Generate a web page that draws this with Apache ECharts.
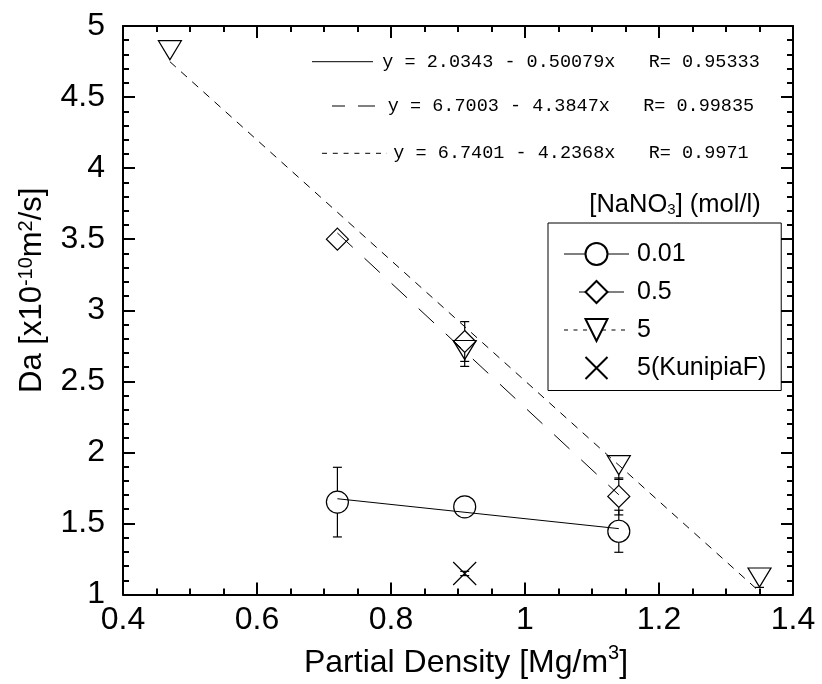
<!DOCTYPE html>
<html>
<head>
<meta charset="utf-8">
<script src="https://cdn.jsdelivr.net/npm/echarts@6/dist/echarts.min.js"></script>
<style>
  html, body { margin: 0; padding: 0; background: #fff; }
  #chart { width: 822px; height: 684px; }
</style>
</head>
<body>
<div id="chart"></div>
<script>
// Apparent diffusivity Da against partial density, one series per NaNO3 concentration
const concLabels = ['0.01', '0.5', '5', '5(KunipiaF)'];

const densC001 = [0.72, 0.91, 1.14];
const daC001 = [1.65, 1.617, 1.445];
const errUpC001 = [0.245, 0, 0.148];
const errDnC001 = [0.245, 0, 0.148];

const densC05 = [0.72, 0.91, 1.14];
const daC05 = [3.5, 2.78, 1.69];
const errUpC05 = [0, 0.14, 0.13];
const errDnC05 = [0, 0.14, 0.13];

const densC5 = [0.47, 0.91, 1.14, 1.35];
const daC5 = [4.83, 2.72, 1.91, 1.12];
const errUpC5 = [0, 0, 0, 0];
const errDnC5 = [0, 0.115, 0.1, 0.07];

const densKF = [0.91];
const daKF = [1.148];
const errUpKF = [0.015];
const errDnKF = [0.015];

// linear fits  y = a - b x  and their correlation coefficients
const fitA = ['2.0343', '6.7003', '6.7401'];
const fitB = ['0.50079', '4.3847', '4.2368'];
const fitR = ['0.95333', '0.99835', '0.9971'];
const fitFrom = [0.72, 0.72, 0.47];
const fitTo = [1.14, 1.14, 1.35];

const xTickLabels = ['0.4', '0.6', '0.8', '1', '1.2', '1.4'];
const yTickLabels = ['1', '1.5', '2', '2.5', '3', '3.5', '4', '4.5', '5'];

const SANS = 'Liberation Sans, Arial, sans-serif';
const MONO = 'Liberation Mono, Courier New, monospace';
const BLACK = '#000';

const fitLine = (i) => [fitFrom[i], fitTo[i]].map(x => [x, parseFloat(fitA[i]) - parseFloat(fitB[i]) * x]);
const pairs = (xs, ys) => xs.map((x, i) => [x, ys[i]]);

// vertical error bars that start at the marker outline
function errorBars(xs, ys, up, dn, gap) {
  return {
    type: 'custom',
    silent: true,
    z: 3,
    encode: { x: 0, y: 1 },
    data: xs.map((x, i) => [x, ys[i], up[i], dn[i]]),
    renderItem(params, api) {
      const x = api.value(0), y = api.value(1), eu = api.value(2), ed = api.value(3);
      const c = api.coord([x, y]);
      const st = { stroke: BLACK, lineWidth: 1.2 };
      const cap = 4.5;
      const kids = [];
      if (eu > 0) {
        const t = api.coord([x, y + eu])[1];
        if (c[1] - gap > t) kids.push({ type: 'line', shape: { x1: c[0], y1: c[1] - gap, x2: c[0], y2: t }, style: st });
        kids.push({ type: 'line', shape: { x1: c[0] - cap, y1: t, x2: c[0] + cap, y2: t }, style: st });
      }
      if (ed > 0) {
        const b = api.coord([x, y - ed])[1];
        if (c[1] + gap < b) kids.push({ type: 'line', shape: { x1: c[0], y1: c[1] + gap, x2: c[0], y2: b }, style: st });
        kids.push({ type: 'line', shape: { x1: c[0] - cap, y1: b, x2: c[0] + cap, y2: b }, style: st });
      }
      return { type: 'group', children: kids };
    }
  };
}

const hollow = { color: 'rgba(0,0,0,0)', borderColor: BLACK, borderWidth: 1.2 };
function markerSeries(name, xs, ys, symbol, size, rotate) {
  return {
    name, type: 'line', data: pairs(xs, ys),
    symbol, symbolSize: size, symbolRotate: rotate || 0, showAllSymbol: true,
    lineStyle: { color: BLACK, width: 1, opacity: 0 },
    itemStyle: hollow,
    emphasis: { disabled: true },
    clip: false, z: 4
  };
}

function fitSeries(i, dash) {
  return {
    name: 'fit ' + concLabels[i], type: 'line', data: fitLine(i),
    symbol: 'none', silent: true,
    lineStyle: { color: BLACK, width: 1, type: dash },
    z: 2
  };
}

const axisCommon = {
  axisLine: { onZero: false, lineStyle: { color: BLACK, width: 2 } },
  axisTick: { inside: true, length: 12, lineStyle: { color: BLACK, width: 2 } },
  minorTick: { show: true, length: 6, lineStyle: { color: BLACK, width: 2 } },
  splitLine: { show: false },
  minorSplitLine: { show: false }
};

const xBase = Object.assign({ type: 'value', min: 0.4, max: 1.4, interval: 0.2 }, axisCommon);
xBase.minorTick = Object.assign({}, axisCommon.minorTick, { splitNumber: 4 });
const yBase = Object.assign({ type: 'value', min: 1, max: 5, interval: 0.5 }, axisCommon);
yBase.minorTick = Object.assign({}, axisCommon.minorTick, { splitNumber: 5 });

// main text sits at the bottom of the line box, superscripts hang from its top
const supRich = (size, lineH, supSize, supLineH) => ({
  a: { fontSize: size, fontFamily: SANS, color: BLACK, lineHeight: lineH, verticalAlign: 'bottom' },
  s: { fontSize: supSize, fontFamily: SANS, color: BLACK, lineHeight: supLineH, verticalAlign: 'top' }
});

const eqY = [61.7, 106, 153.3];
const eqGraphics = [];
fitA.forEach((a, i) => {
  eqGraphics.push({
    type: 'text', x: 571, y: eqY[i],
    style: {
      text: 'y = ' + a + ' - ' + fitB[i] + 'x   R= ' + fitR[i],
      fontSize: 18.5, fontFamily: MONO, fill: BLACK, align: 'center', verticalAlign: 'middle'
    }
  });
});
// line-style keys beside each equation
eqGraphics.push({ type: 'line', shape: { x1: 312, y1: eqY[0], x2: 373, y2: eqY[0] }, style: { stroke: BLACK, lineWidth: 1 } });
eqGraphics.push({ type: 'line', shape: { x1: 332, y1: eqY[1], x2: 345, y2: eqY[1] }, style: { stroke: BLACK, lineWidth: 1 } });
eqGraphics.push({ type: 'line', shape: { x1: 358, y1: eqY[1], x2: 375, y2: eqY[1] }, style: { stroke: BLACK, lineWidth: 1 } });
eqGraphics.push({ type: 'line', shape: { x1: 322, y1: eqY[2], x2: 387, y2: eqY[2] }, style: { stroke: BLACK, lineWidth: 1, lineDash: [5, 5.8] } });

// legend heading
eqGraphics.push({
  type: 'text', x: 675, y: 204.7,
  style: {
    text: '{a|[NaNO}{s|3}{a|] (mol/l)}',
    align: 'center', verticalAlign: 'middle',
    rich: {
      a: { fontSize: 25.5, fontFamily: SANS, fill: BLACK, lineHeight: 26, verticalAlign: 'top' },
      s: { fontSize: 15, fontFamily: SANS, fill: BLACK, lineHeight: 2, verticalAlign: 'bottom' }
    }
  }
});

const chart = echarts.init(document.getElementById('chart'), null, { renderer: 'canvas' });
chart.setOption({
  animation: false,
  backgroundColor: '#fff',
  grid: { left: 123, top: 26, right: 29, bottom: 89 },
  xAxis: [
    Object.assign({}, xBase, {
      position: 'bottom',
      axisLabel: {
        fontSize: 32, fontFamily: SANS, color: BLACK, margin: 10,
        formatter: v => xTickLabels[Math.round((v - 0.4) / 0.2)]
      },
      name: '{a|Partial Density [Mg/m}{s|3}{a|]}',
      nameLocation: 'middle', nameGap: 48.5,
      nameTextStyle: { rich: supRich(32, 36, 20, 6), padding: [0, 0, 0, 16] }
    }),
    Object.assign({}, xBase, { position: 'top', axisLabel: { show: false } })
  ],
  yAxis: [
    Object.assign({}, yBase, {
      position: 'left',
      axisLabel: {
        fontSize: 32, fontFamily: SANS, color: BLACK, margin: 18,
        formatter: v => yTickLabels[Math.round((v - 1) / 0.5)]
      },
      name: '{a|Da [x10}{s|-10}{a|m}{s|2}{a|/s]}',
      nameLocation: 'middle', nameGap: 75,
      nameTextStyle: { rich: supRich(31, 32, 20, 8), padding: [0, 0, 0, 40] }
    }),
    Object.assign({}, yBase, { position: 'right', axisLabel: { show: false } })
  ],
  legend: {
    orient: 'vertical', left: 548, top: 223,
    itemWidth: 65, itemHeight: 27.5, itemGap: 13,
    padding: [18.5, 15, 10, 15],
    borderColor: BLACK, borderWidth: 1,
    selectedMode: false,
    textStyle: { fontSize: 25, fontFamily: SANS, color: BLACK, padding: [0, 0, 0, 3] },
    data: [
      { name: concLabels[0], lineStyle: { type: 'solid', width: 1, opacity: 1, color: BLACK }, itemStyle: { color: '#fff' } },
      { name: concLabels[1], lineStyle: { type: [0.01, 15, 45, 100], width: 1, opacity: 1, color: BLACK }, itemStyle: { color: '#fff' } },
      { name: concLabels[2], lineStyle: { type: [4, 5.5], width: 1, opacity: 1, color: BLACK }, itemStyle: { color: '#fff' } },
      { name: concLabels[3], lineStyle: { opacity: 0 }, itemStyle: { color: '#fff' } }
    ]
  },
  graphic: eqGraphics,
  series: [
    fitSeries(0, 'solid'),
    fitSeries(1, [21, 16]),
    fitSeries(2, [8, 7]),
    errorBars(densC001, daC001, errUpC001, errDnC001, 11),
    errorBars(densC05, daC05, errUpC05, errDnC05, 11),
    errorBars(densC5, daC5, errUpC5, errDnC5, 9.5),
    errorBars(densKF, daKF, errUpKF, errDnKF, 0),
    markerSeries(concLabels[0], densC001, daC001, 'circle', 22),
    markerSeries(concLabels[1], densC05, daC05, 'diamond', 22),
    markerSeries(concLabels[2], densC5, daC5, 'triangle', [23, 19], 180),
    markerSeries(concLabels[3], densKF, daKF, 'path://M0,0L10,10M10,0L0,10', 23)
  ]
});
</script>
</body>
</html>
